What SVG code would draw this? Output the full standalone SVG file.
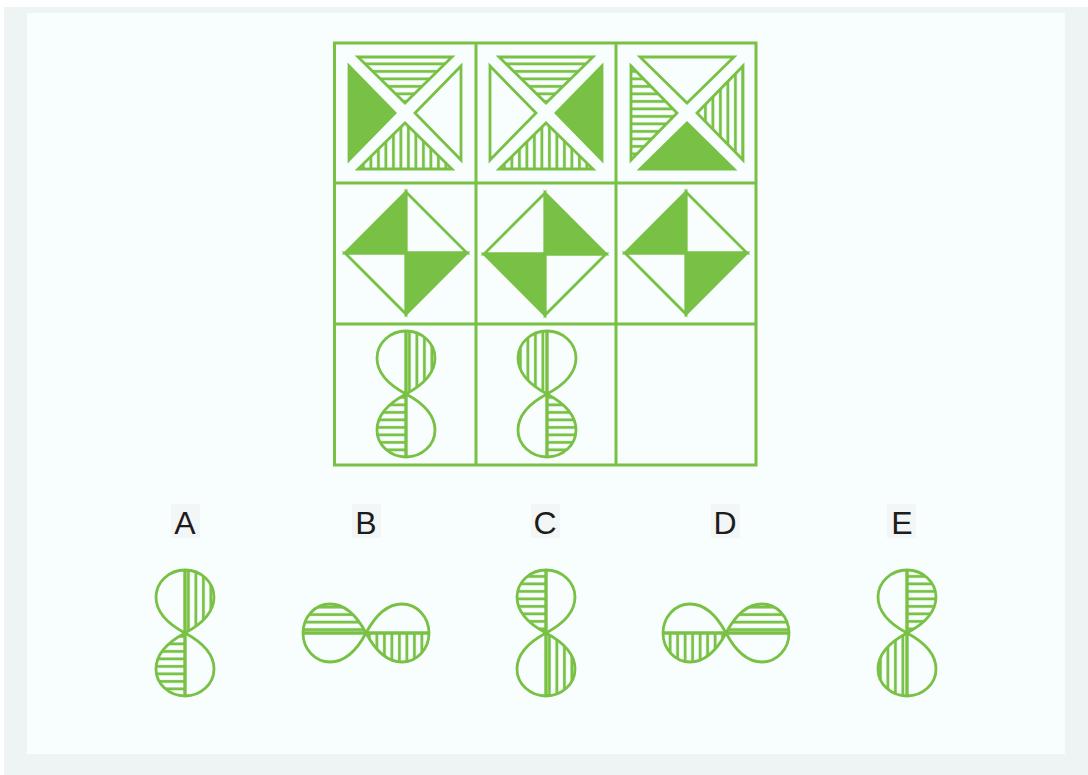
<svg xmlns="http://www.w3.org/2000/svg" xmlns:xlink="http://www.w3.org/1999/xlink" width="1088" height="775" viewBox="0 0 1088 775">
<style>
.g{stroke:#78c144;stroke-width:2.8;fill:none;stroke-linejoin:miter}
.grid{stroke:#78c144;stroke-width:3;fill:none}
.lbl{font-family:"Liberation Sans",Arial,sans-serif;font-size:32px;fill:#1c1c1c;text-anchor:middle}
.lb{fill:#f3f6f6}
</style>
<defs>
<pattern id="hs" width="7.5" height="7.5" patternUnits="userSpaceOnUse"><rect x="0" y="2" width="7.5" height="2.8" fill="#78c144"/></pattern>
<pattern id="vs" width="7.5" height="7.5" patternUnits="userSpaceOnUse"><rect x="2" y="0" width="2.8" height="7.5" fill="#78c144"/></pattern>
<path id="uL" d="M0,0 C-15,-8 -29,-20 -29,-36 A29,27 0 0 1 0,-63 Z"/>
<path id="uR" d="M0,0 C15,-8 29,-20 29,-36 A29,27 0 0 0 0,-63 Z"/>
<path id="lL" d="M0,0 C-15,8 -29,20 -29,36 A29,27 0 0 0 0,63 Z"/>
<path id="lR" d="M0,0 C15,8 29,20 29,36 A29,27 0 0 1 0,63 Z"/>
<g id="eight" class="g">
<path d="M0,0 C-15,-8 -29,-20 -29,-36 A29,27 0 0 1 29,-36 C29,-20 15,-8 0,0 Z"/>
<path d="M0,0 C-15,8 -29,20 -29,36 A29,27 0 0 0 29,36 C29,20 15,8 0,0 Z"/>
<line x1="0" y1="-63" x2="0" y2="63" stroke-width="3.4"/>
</g>
<polygon id="tT" points="-47,-56 47,-56 0,-10"/>
<polygon id="tB" points="-47,56 47,56 0,10"/>
<polygon id="tL" points="-56,-47 -56,47 -10,0"/>
<polygon id="tR" points="56,-47 56,47 10,0"/>
<polygon id="dUL" points="0,-61 -61,0 0,0"/>
<polygon id="dUR" points="0,-61 61,0 0,0"/>
<polygon id="dLL" points="-61,0 0,61 0,0"/>
<polygon id="dLR" points="61,0 0,61 0,0"/>
</defs>
<rect x="0" y="0" width="1088" height="775" fill="#ffffff"/>
<rect x="4" y="7" width="1084" height="768" fill="#eef3f3"/>
<rect x="27" y="13" width="1038" height="741" fill="#f8fdfd"/>

<g id="grid" class="grid">
<rect x="334.5" y="43" width="421.5" height="422"/>
<line x1="476" y1="43" x2="476" y2="465"/>
<line x1="616" y1="43" x2="616" y2="465"/>
<line x1="334.5" y1="183" x2="756" y2="183"/>
<line x1="334.5" y1="324" x2="756" y2="324"/>
</g>

<g id="r1c1" transform="translate(405,113)" class="g">
<use href="#tT" fill="url(#hs)"/>
<use href="#tL" fill="#78c144"/>
<use href="#tR"/>
<use href="#tB" fill="url(#vs)"/>
</g>
<g id="r1c2" transform="translate(546,113)" class="g">
<use href="#tT" fill="url(#hs)"/>
<use href="#tL"/>
<use href="#tR" fill="#78c144"/>
<use href="#tB" fill="url(#vs)"/>
</g>
<g id="r1c3" transform="translate(687,113)" class="g">
<use href="#tT"/>
<use href="#tL" fill="url(#hs)"/>
<use href="#tR" fill="url(#vs)"/>
<use href="#tB" fill="#78c144"/>
</g>

<g id="r2c1" transform="translate(406,253)" class="g">
<use href="#dUL" fill="#78c144"/><use href="#dUR"/><use href="#dLL"/><use href="#dLR" fill="#78c144"/>
</g>
<g id="r2c2" transform="translate(545,254)" class="g">
<use href="#dUL"/><use href="#dUR" fill="#78c144"/><use href="#dLL" fill="#78c144"/><use href="#dLR"/>
</g>
<g id="r2c3" transform="translate(686,253)" class="g">
<use href="#dUL" fill="#78c144"/><use href="#dUR"/><use href="#dLL"/><use href="#dLR" fill="#78c144"/>
</g>

<g id="r3c1" transform="translate(406,394)">
<use href="#uR" fill="url(#vs)"/><use href="#lL" fill="url(#hs)"/><use href="#eight"/>
</g>
<g id="r3c2" transform="translate(547,394)">
<use href="#uL" fill="url(#vs)"/><use href="#lR" fill="url(#hs)"/><use href="#eight"/>
</g>

<g id="optA">
<rect class="lb" x="171" y="504" width="29" height="34"/>
<text class="lbl" x="185" y="534">A</text>
<g transform="translate(185,633)"><use href="#uR" fill="url(#vs)"/><use href="#lL" fill="url(#hs)"/><use href="#eight"/></g>
</g>
<g id="optB">
<rect class="lb" x="352" y="504" width="29" height="34"/>
<text class="lbl" x="366" y="534">B</text>
<g transform="translate(366,633) rotate(-90)"><use href="#uR" fill="url(#vs)"/><use href="#lL" fill="url(#hs)"/><use href="#eight"/></g>
</g>
<g id="optC">
<rect class="lb" x="531" y="504" width="29" height="34"/>
<text class="lbl" x="545" y="534">C</text>
<g transform="translate(546,633)"><use href="#uL" fill="url(#hs)"/><use href="#lR" fill="url(#vs)"/><use href="#eight"/></g>
</g>
<g id="optD">
<rect class="lb" x="711" y="504" width="29" height="34"/>
<text class="lbl" x="725" y="534">D</text>
<g transform="translate(726,633) scale(-1,1) rotate(-90)"><use href="#uR" fill="url(#vs)"/><use href="#lL" fill="url(#hs)"/><use href="#eight"/></g>
</g>
<g id="optE">
<rect class="lb" x="887" y="504" width="29" height="34"/>
<text class="lbl" x="902" y="534">E</text>
<g transform="translate(907,633)"><use href="#uR" fill="url(#hs)"/><use href="#lL" fill="url(#vs)"/><use href="#eight"/></g>
</g>
</svg>
